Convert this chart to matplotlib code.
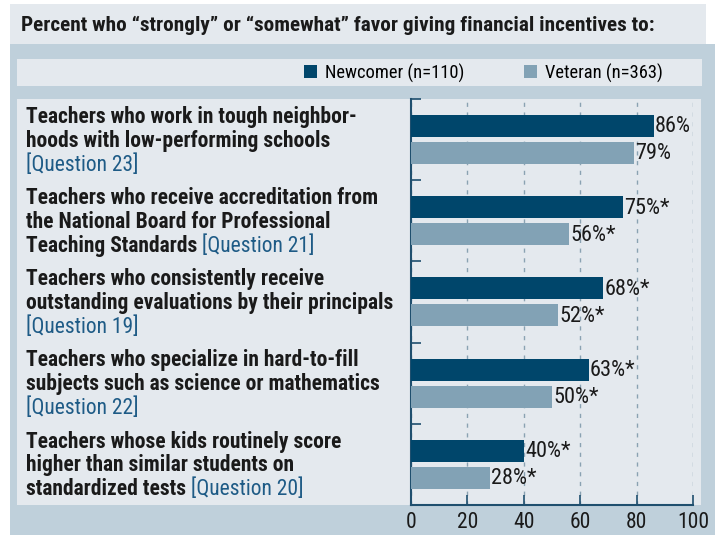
import matplotlib
matplotlib.use('Agg')
import matplotlib.pyplot as plt
from matplotlib import transforms
from matplotlib.patches import Rectangle

# Data
title = "Percent who \u201cstrongly\u201d or \u201csomewhat\u201d favor giving financial incentives to:"
series = ['Newcomer (n=110)', 'Veteran (n=363)']
newcomer = [86, 75, 68, 63, 40]
veteran = [79, 56, 52, 50, 28]
newcomer_labels = ['86%', '75%*', '68%*', '63%*', '40%*']
veteran_labels = ['79%', '56%*', '52%*', '50%*', '28%*']
category_lines = [
    ['Teachers who work in tough neighbor-', 'hoods with low-performing schools', ''],
    ['Teachers who receive accreditation from', 'the National Board for Professional', 'Teaching Standards'],
    ['Teachers who consistently receive', 'outstanding evaluations by their principals', ''],
    ['Teachers who specialize in hard-to-fill', 'subjects such as science or mathematics', ''],
    ['Teachers whose kids routinely score', 'higher than similar students on', 'standardized tests'],
]
questions = ['[Question 23]', '[Question 21]', '[Question 19]', '[Question 22]', '[Question 20]']
xticks = [0, 20, 40, 60, 80, 100]

# Colours
c_new = '#00466b'
c_vet = '#82a2b5'
c_outer = '#bfd0db'
c_light = '#e4e9ee'
c_axis = '#1f4f6e'
c_grid = '#8aa2b2'
c_q = '#1e5b86'
c_text = '#1a1a1a'

plt.rcParams['font.family'] = ['Roboto Condensed', 'DejaVu Sans']

W, H = 717, 535
fig = plt.figure(figsize=(W / 100, H / 100), dpi=100)


def box(x0, y0, x1, y1, color):
    # pixel box measured from the top-left corner
    fig.patches.append(Rectangle((x0 / W, 1 - y1 / H), (x1 - x0) / W, (y1 - y0) / H,
                                 transform=fig.transFigure, facecolor=color,
                                 edgecolor='none', zorder=-5))


box(10, 4, 706, 44, c_light)
box(10, 44, 715, 535, c_outer)
box(17, 59, 702, 86, c_light)
box(17, 99, 701, 505, c_light)

fig.text(21 / W, 1 - 25 / H, title, ha='left', va='center', fontsize=15.3,
         fontweight='bold', color=c_text)

ax = fig.add_axes([411 / W, 1 - 505 / H, 282 / W, 406 / H])
ax.patch.set_visible(False)

n = len(newcomer)
pos = list(range(n))
h = 0.271
b1 = ax.barh([p + 0.333 for p in pos], newcomer, height=h, color=c_new, zorder=3, label=series[0])
b2 = ax.barh([p + 0.665 for p in pos], veteran, height=h, color=c_vet, zorder=3, label=series[1])

for rect, lab in zip(b1, newcomer_labels):
    ax.text(rect.get_width() + 0.5, rect.get_y() + h / 2 + 0.01, lab, va='center', ha='left',
            fontsize=16, color=c_text)
for rect, lab in zip(b2, veteran_labels):
    ax.text(rect.get_width() + 0.5, rect.get_y() + h / 2 + 0.01, lab, va='center', ha='left',
            fontsize=16, color=c_text)

ax.set_xlim(0, 100)
ax.set_ylim(n, 0)
ax.set_xticks(xticks)
ax.set_yticks(pos)
ax.set_yticklabels([])
ax.tick_params(axis='x', direction='in', length=7, width=1.2, color=c_axis, pad=5,
               labelsize=15.5, labelcolor=c_text)
ax.tick_params(axis='y', direction='in', length=7, width=1.2, color=c_axis)
ax.xaxis.grid(True, linestyle=(0, (3, 4)), color=c_grid, linewidth=1, zorder=1)
ax.set_axisbelow(True)
for s in ['top', 'right']:
    ax.spines[s].set_visible(False)
for s in ['left', 'bottom']:
    ax.spines[s].set_color(c_axis)
    ax.spines[s].set_linewidth(1.5)

# Category labels on the left
trans = transforms.blended_transform_factory(fig.transFigure, ax.transData)
renderer = fig.canvas.get_renderer()
offsets = [0.292, 0.587, 0.883]
for i, lines in enumerate(category_lines):
    last = None
    for j, line in enumerate(lines):
        if line:
            last = ax.text(26 / W, i + offsets[j], line, transform=trans, ha='left',
                           va='baseline', fontsize=15.5, fontweight='bold', color=c_text)
    if lines[2]:
        w = last.get_window_extent(renderer).width
        tr = transforms.offset_copy(trans, fig=fig, x=w, units='dots')
        ax.text(26 / W, i + offsets[2], ' ' + questions[i], transform=tr, ha='left',
                va='baseline', fontsize=15.5, color=c_q)
    else:
        ax.text(26 / W, i + offsets[2], questions[i], transform=trans, ha='left',
                va='baseline', fontsize=15.5, color=c_q)

fig.legend(handles=[b1, b2], labels=series, loc='center left',
           bbox_to_anchor=(304 / W, 1 - 73 / H), ncol=2, frameon=False, fontsize=13.3,
           handlelength=0.7, handleheight=0.7, handletextpad=0.45, columnspacing=3.2,
           borderpad=0, borderaxespad=0)

fig.savefig('out.png', dpi=100)
